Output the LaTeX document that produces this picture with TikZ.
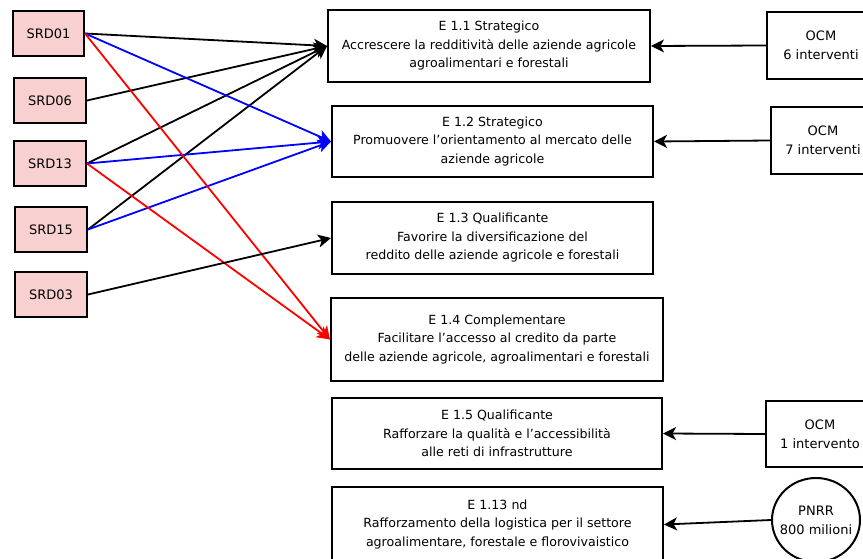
\documentclass[tikz,border=0pt]{standalone}
\usepackage{fontspec}
\setmainfont{DejaVu Sans}
\usetikzlibrary{arrows.meta,shapes.geometric}
\definecolor{srdfill}{RGB}{248,208,208}
\tikzset{
  srdbox/.style={draw=black, line width=2pt, fill=srdfill, inner sep=0pt, font=\fontsize{13}{15}\selectfont},
  ebox/.style={draw=black, line width=2pt, fill=white, inner sep=0pt, align=center, font=\fontsize{12.6}{18.5}\selectfont},
  ocmbox/.style={draw=black, line width=2pt, fill=white, inner sep=0pt, align=center, font=\fontsize{13}{19}\selectfont},
  conn/.style={line width=1.8pt, -{Stealth[length=13pt,width=13pt,inset=3.5pt]}},
}
\begin{document}
\begin{tikzpicture}[x=1pt,y=-1pt]
\useasboundingbox (0,0) rectangle (863,559);
% SRD boxes
\node[srdbox, minimum width=71pt, minimum height=45pt] (srd01) at (48.5,33.5) {SRD01};
\node[srdbox, minimum width=72pt, minimum height=45pt] (srd06) at (50,100.5) {SRD06};
\node[srdbox, minimum width=72pt, minimum height=45pt] (srd13) at (50,163.5) {SRD13};
\node[srdbox, minimum width=72pt, minimum height=45pt] (srd15) at (51,229.5) {SRD15};
\node[srdbox, minimum width=72pt, minimum height=45pt] (srd03) at (51,294.5) {SRD03};
% E boxes
\node[ebox, minimum width=322pt, minimum height=72pt] (e11) at (489,46) {E 1.1 Strategico\\Accrescere la redditività delle aziende agricole\\agroalimentari e forestali};
\node[ebox, minimum width=321pt, minimum height=71pt] (e12) at (492.5,141.5) {E 1.2 Strategico\\Promuovere l'orientamento al mercato delle\\aziende agricole};
\node[ebox, minimum width=321pt, minimum height=72pt] (e13) at (492.5,238) {E 1.3 Qualificante\\Favorire la diversificazione del\\reddito delle aziende agricole e forestali};
\node[ebox, minimum width=332pt, minimum height=83pt] (e14) at (497,339.5) {E 1.4 Complementare\\Facilitare l’accesso al credito da parte\\delle aziende agricole, agroalimentari e forestali};
\node[ebox, minimum width=330pt, minimum height=71pt] (e15) at (497,433.5) {E 1.5 Qualificante\\Rafforzare la qualità e l’accessibilità\\alle reti di infrastrutture};
\node[ebox, minimum width=331pt, minimum height=75pt] (e113) at (497.5,524.5) {E 1.13 nd\\Rafforzamento della logistica per il settore\\agroalimentare, forestale e florovivaistico};
% right side
\node[ocmbox, minimum width=108pt, minimum height=67pt] (ocm6) at (821,45.5) {OCM\\6 interventi};
\node[ocmbox, minimum width=104pt, minimum height=67pt] (ocm7) at (823,140.5) {OCM\\7 interventi};
\node[ocmbox, minimum width=108pt, minimum height=66pt] (ocm1) at (820,434) {OCM\\1 intervento};
\node[ocmbox, ellipse, inner xsep=-14pt, inner ysep=-8pt, minimum width=88pt, minimum height=84pt] (pnrr) at (816,520) {PNRR\\800 milioni};
% connectors from right
\draw[conn] (ocm6.west) -- (e11.east);
\draw[conn] (ocm7.west) -- (e12.east);
\draw[conn] (ocm1.west) -- (e15.east);
\draw[conn] (pnrr.west) -- (e113.east);
% connectors from left
\draw[conn, black] (srd01.east) -- (e11.west);
\draw[conn, black] (srd06.east) -- (e11.west);
\draw[conn, black] (srd13.east) -- (e11.west);
\draw[conn, black] (srd15.east) -- (e11.west);
\draw[conn, blue] (srd01.east) -- (e12.west);
\draw[conn, blue] (srd13.east) -- (e12.west);
\draw[conn, blue] (srd15.east) -- (e12.west);
\draw[conn, red] (srd01.east) -- (e14.west);
\draw[conn, red] (srd13.east) -- (e14.west);
\draw[conn, black] (srd03.east) -- (e13.west);
\end{tikzpicture}
\end{document}
